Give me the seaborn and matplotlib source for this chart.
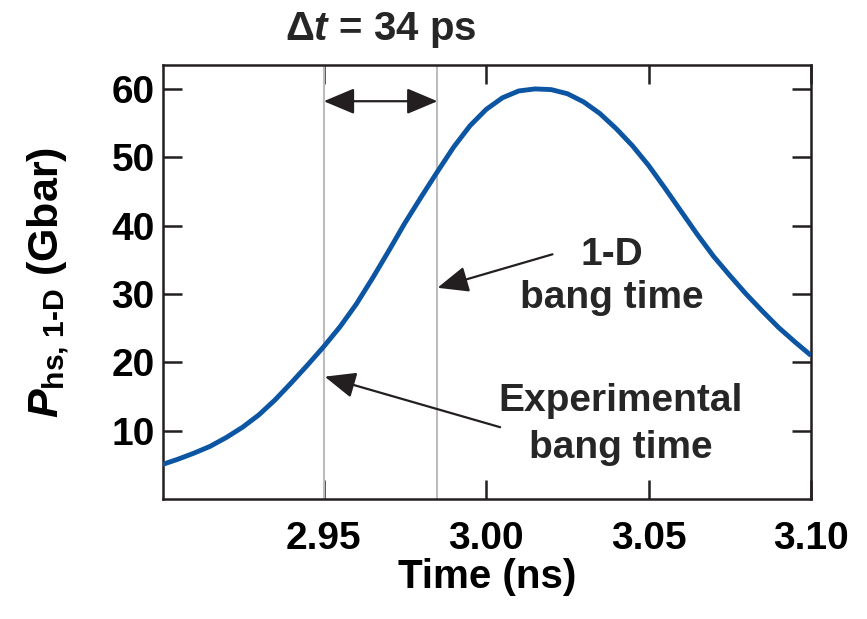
import matplotlib
matplotlib.use("Agg")
import matplotlib.pyplot as plt
import seaborn as sns
import pandas as pd

# ---- data ----
time_ns = [2.900, 2.905, 2.910, 2.915, 2.920, 2.925, 2.930, 2.935, 2.940,
           2.945, 2.950, 2.955, 2.960, 2.965, 2.970, 2.975, 2.980, 2.985,
           2.990, 2.995, 3.000, 3.005, 3.010, 3.015, 3.020, 3.025, 3.030,
           3.035, 3.040, 3.045, 3.050, 3.055, 3.060, 3.065, 3.070, 3.075,
           3.080, 3.085, 3.090, 3.095, 3.100]
pressure_gbar = [5.0, 5.8, 6.7, 7.7, 9.0, 10.5, 12.3, 14.5, 17.0,
                 19.6, 22.3, 25.2, 28.5, 32.3, 36.3, 40.4, 44.2, 47.9,
                 51.5, 54.6, 57.0, 58.7, 59.7, 60.0, 59.9, 59.3, 58.1,
                 56.4, 54.2, 51.7, 48.8, 45.5, 42.1, 38.7, 35.5, 32.7,
                 30.0, 27.5, 25.1, 23.0, 21.0]
exp_bang_time = 2.950
sim_bang_time = 2.985
x_ticks = [2.95, 3.00, 3.05, 3.10]
x_tick_labels = ["2.95", "3.00", "3.05", "3.10"]
y_ticks = [10, 20, 30, 40, 50, 60]
y_tick_labels = ["10", "20", "30", "40", "50", "60"]

sns.set_theme(style="ticks")
plt.rcParams["font.family"] = ["Liberation Sans", "DejaVu Sans"]
plt.rcParams["font.weight"] = "bold"
plt.rcParams["mathtext.fontset"] = "custom"
plt.rcParams["mathtext.rm"] = "Liberation Sans:bold"
plt.rcParams["mathtext.it"] = "Liberation Sans:italic:bold"
plt.rcParams["mathtext.bf"] = "Liberation Sans:bold"

ink = "#231f20"
blue = "#0b55a3"
gray = "#bdbdbd"

df = pd.DataFrame({"time": time_ns, "p": pressure_gbar})

fig = plt.figure(figsize=(8.67, 6.19), dpi=100)
ax = fig.add_axes([0.188, 0.1939, 0.7474, 0.7011])

for t in (exp_bang_time, sim_bang_time):
    ax.axvline(t, color=gray, lw=1.5, zorder=1)

sns.lineplot(data=df, x="time", y="p", color=blue, linewidth=3.5,
             ax=ax, zorder=3)
for ln in ax.lines[-1:]:
    ln.set_solid_joinstyle("round")
    ln.set_solid_capstyle("butt")

ax.set_xlim(2.9005, 3.10)
ax.set_ylim(0, 63.5)
ax.set_xticks(x_ticks)
ax.set_xticklabels(x_tick_labels)
ax.set_yticks(y_ticks)
ax.set_yticklabels(y_tick_labels)

for s in ax.spines.values():
    s.set_visible(True)
    s.set_color(ink)
    s.set_linewidth(1.8)

ax.tick_params(axis="both", which="major", direction="in", length=13.5,
               width=1.8, color=ink, labelcolor="black", labelsize=28,
               top=True, right=True)
ax.tick_params(axis="x", pad=15.5)
ax.tick_params(axis="y", pad=6)
for lab in ax.get_xticklabels() + ax.get_yticklabels():
    lab.set_fontweight("bold")

ax.set_xlabel("Time (ns)", fontsize=29, fontweight="bold", color="black")
ax.xaxis.set_label_coords(0.5, -0.136)
ax.set_ylabel(r"$P_{\text{hs, 1-D}}$ (Gbar)", fontsize=31,
              fontweight="bold", color="black")
ax.yaxis.set_label_coords(-0.142, 0.5)

# delta t label above the axes
ax.text((exp_bang_time + sim_bang_time) / 2, 67.1, "\u0394$t$ = 34 ps",
        ha="center", va="baseline", fontsize=29, fontweight="bold",
        clip_on=False)

# double arrow between the two bang times
ax.annotate("", xy=(sim_bang_time, 58.2), xytext=(exp_bang_time, 58.2),
            arrowprops=dict(arrowstyle="<|-|>,head_length=0.95,head_width=0.4",
                            mutation_scale=20, color=ink, lw=1.6,
                            shrinkA=0, shrinkB=0), zorder=4)

# 1-D bang time annotation
ax.text(3.0388, 34.2, "1-D", ha="center", va="baseline", fontsize=28,
        fontweight="bold")
ax.text(3.0388, 27.9, "bang time", ha="center", va="baseline", fontsize=28,
        fontweight="bold")
ax.annotate("", xy=(sim_bang_time, 30.9), xytext=(3.0204, 35.8),
            arrowprops=dict(arrowstyle="-|>,head_length=0.95,head_width=0.4",
                            mutation_scale=20, color=ink, lw=1.6,
                            shrinkA=0, shrinkB=0), zorder=4)

# experimental bang time annotation
ax.text(3.0414, 12.9, "Experimental", ha="center", va="baseline",
        fontsize=28, fontweight="bold")
ax.text(3.0414, 6.05, "bang time", ha="center", va="baseline", fontsize=28,
        fontweight="bold")
ax.annotate("", xy=(exp_bang_time + 0.0003, 17.9), xytext=(3.0043, 10.5),
            arrowprops=dict(arrowstyle="-|>,head_length=0.95,head_width=0.4",
                            mutation_scale=20, color=ink, lw=1.6,
                            shrinkA=0, shrinkB=0), zorder=4)

fig.savefig("out.png", dpi=100)
